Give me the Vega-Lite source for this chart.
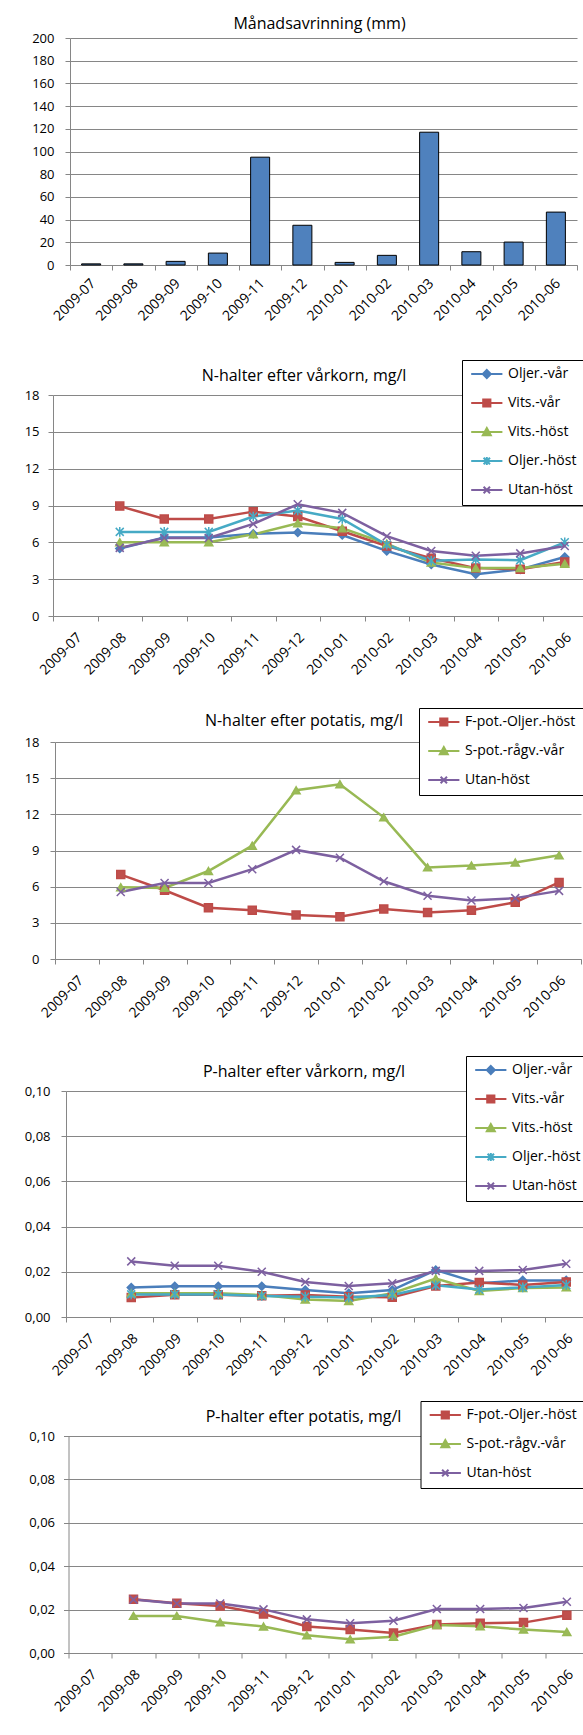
{
  "$schema": "https://vega.github.io/schema/vega-lite/v6.json",
  "padding": {"left": 0, "top": 16, "right": 0, "bottom": 0},
  "columns": 1,
  "bounds": "full",
  "spacing": 5,
  "resolve": {"scale": {"color": "independent", "fill": "independent", "stroke": "independent", "shape": "independent"}, "legend": {"color": "independent", "fill": "independent", "stroke": "independent", "shape": "independent"}},
  "config": {
    "font": "Open Sans",
    "view": {"stroke": null},
    "locale": {"number": {"decimal": ",", "thousands": " ", "grouping": [3], "currency": ["", " kr"]}},
    "title": {"font": "Open Sans", "fontSize": 16, "fontWeight": "normal", "color": "black", "baseline": "alphabetic", "frame": "group", "anchor": "middle"},
    "axis": {"labelFont": "Open Sans", "labelColor": "black", "domainColor": "#868686", "tickColor": "#868686", "gridColor": "#868686", "gridWidth": 1, "domainWidth": 1, "tickWidth": 1, "tickSize": 5},
    "axisX": {"tickBand": "extent", "grid": false, "labelFontSize": 14, "labelOverlap": false},
    "axisY": {"labelFontSize": 13, "grid": true, "minExtent": 44, "maxExtent": 44},
    "legend": {"orient": "none", "fillColor": "white", "strokeColor": "black", "padding": 7, "rowPadding": 13, "labelFontSize": 14, "labelFont": "Open Sans", "labelColor": "black", "symbolSize": 64, "symbolStrokeWidth": 2, "labelOffset": 25}
  },
  "datasets": {
    "runoff": [
      {"m": "2009-07", "v": 1.0}, {"m": "2009-08", "v": 1.0}, {"m": "2009-09", "v": 3.2}, {"m": "2009-10", "v": 10.5},
      {"m": "2009-11", "v": 95.0}, {"m": "2009-12", "v": 35.0}, {"m": "2010-01", "v": 2.3}, {"m": "2010-02", "v": 8.5},
      {"m": "2010-03", "v": 117.0}, {"m": "2010-04", "v": 11.7}, {"m": "2010-05", "v": 20.2}, {"m": "2010-06", "v": 46.6}
    ],
    "nv": [
      {"m": "2009-08", "s": "Oljer.-vår", "v": 5.5}, {"m": "2009-09", "s": "Oljer.-vår", "v": 6.4}, {"m": "2009-10", "s": "Oljer.-vår", "v": 6.4}, {"m": "2009-11", "s": "Oljer.-vår", "v": 6.7}, {"m": "2009-12", "s": "Oljer.-vår", "v": 6.8}, {"m": "2010-01", "s": "Oljer.-vår", "v": 6.6}, {"m": "2010-02", "s": "Oljer.-vår", "v": 5.3}, {"m": "2010-03", "s": "Oljer.-vår", "v": 4.2}, {"m": "2010-04", "s": "Oljer.-vår", "v": 3.4}, {"m": "2010-05", "s": "Oljer.-vår", "v": 3.8}, {"m": "2010-06", "s": "Oljer.-vår", "v": 4.8},
      {"m": "2009-08", "s": "Vits.-vår", "v": 8.95}, {"m": "2009-09", "s": "Vits.-vår", "v": 7.9}, {"m": "2009-10", "s": "Vits.-vår", "v": 7.9}, {"m": "2009-11", "s": "Vits.-vår", "v": 8.5}, {"m": "2009-12", "s": "Vits.-vår", "v": 8.1}, {"m": "2010-01", "s": "Vits.-vår", "v": 6.9}, {"m": "2010-02", "s": "Vits.-vår", "v": 5.7}, {"m": "2010-03", "s": "Vits.-vår", "v": 4.7}, {"m": "2010-04", "s": "Vits.-vår", "v": 3.9}, {"m": "2010-05", "s": "Vits.-vår", "v": 3.8}, {"m": "2010-06", "s": "Vits.-vår", "v": 4.4},
      {"m": "2009-08", "s": "Vits.-höst", "v": 6.0}, {"m": "2009-09", "s": "Vits.-höst", "v": 6.0}, {"m": "2009-10", "s": "Vits.-höst", "v": 6.0}, {"m": "2009-11", "s": "Vits.-höst", "v": 6.65}, {"m": "2009-12", "s": "Vits.-höst", "v": 7.55}, {"m": "2010-01", "s": "Vits.-höst", "v": 7.15}, {"m": "2010-02", "s": "Vits.-höst", "v": 5.9}, {"m": "2010-03", "s": "Vits.-höst", "v": 4.35}, {"m": "2010-04", "s": "Vits.-höst", "v": 3.9}, {"m": "2010-05", "s": "Vits.-höst", "v": 3.9}, {"m": "2010-06", "s": "Vits.-höst", "v": 4.25},
      {"m": "2009-08", "s": "Oljer.-höst", "v": 6.85}, {"m": "2009-09", "s": "Oljer.-höst", "v": 6.85}, {"m": "2009-10", "s": "Oljer.-höst", "v": 6.85}, {"m": "2009-11", "s": "Oljer.-höst", "v": 8.1}, {"m": "2009-12", "s": "Oljer.-höst", "v": 8.6}, {"m": "2010-01", "s": "Oljer.-höst", "v": 7.9}, {"m": "2010-02", "s": "Oljer.-höst", "v": 5.8}, {"m": "2010-03", "s": "Oljer.-höst", "v": 4.5}, {"m": "2010-04", "s": "Oljer.-höst", "v": 4.6}, {"m": "2010-05", "s": "Oljer.-höst", "v": 4.55}, {"m": "2010-06", "s": "Oljer.-höst", "v": 6.0},
      {"m": "2009-08", "s": "Utan-höst", "v": 5.55}, {"m": "2009-09", "s": "Utan-höst", "v": 6.35}, {"m": "2009-10", "s": "Utan-höst", "v": 6.35}, {"m": "2009-11", "s": "Utan-höst", "v": 7.5}, {"m": "2009-12", "s": "Utan-höst", "v": 9.1}, {"m": "2010-01", "s": "Utan-höst", "v": 8.4}, {"m": "2010-02", "s": "Utan-höst", "v": 6.5}, {"m": "2010-03", "s": "Utan-höst", "v": 5.3}, {"m": "2010-04", "s": "Utan-höst", "v": 4.9}, {"m": "2010-05", "s": "Utan-höst", "v": 5.1}, {"m": "2010-06", "s": "Utan-höst", "v": 5.7}
    ],
    "np": [
      {"m": "2009-08", "s": "F-pot.-Oljer.-höst", "v": 7.0}, {"m": "2009-09", "s": "F-pot.-Oljer.-höst", "v": 5.7}, {"m": "2009-10", "s": "F-pot.-Oljer.-höst", "v": 4.25}, {"m": "2009-11", "s": "F-pot.-Oljer.-höst", "v": 4.05}, {"m": "2009-12", "s": "F-pot.-Oljer.-höst", "v": 3.65}, {"m": "2010-01", "s": "F-pot.-Oljer.-höst", "v": 3.5}, {"m": "2010-02", "s": "F-pot.-Oljer.-höst", "v": 4.15}, {"m": "2010-03", "s": "F-pot.-Oljer.-höst", "v": 3.85}, {"m": "2010-04", "s": "F-pot.-Oljer.-höst", "v": 4.05}, {"m": "2010-05", "s": "F-pot.-Oljer.-höst", "v": 4.7}, {"m": "2010-06", "s": "F-pot.-Oljer.-höst", "v": 6.35},
      {"m": "2009-08", "s": "S-pot.-rågv.-vår", "v": 5.95}, {"m": "2009-09", "s": "S-pot.-rågv.-vår", "v": 5.9}, {"m": "2009-10", "s": "S-pot.-rågv.-vår", "v": 7.3}, {"m": "2009-11", "s": "S-pot.-rågv.-vår", "v": 9.4}, {"m": "2009-12", "s": "S-pot.-rågv.-vår", "v": 14.0}, {"m": "2010-01", "s": "S-pot.-rågv.-vår", "v": 14.5}, {"m": "2010-02", "s": "S-pot.-rågv.-vår", "v": 11.75}, {"m": "2010-03", "s": "S-pot.-rågv.-vår", "v": 7.6}, {"m": "2010-04", "s": "S-pot.-rågv.-vår", "v": 7.75}, {"m": "2010-05", "s": "S-pot.-rågv.-vår", "v": 8.0}, {"m": "2010-06", "s": "S-pot.-rågv.-vår", "v": 8.6},
      {"m": "2009-08", "s": "Utan-höst", "v": 5.55}, {"m": "2009-09", "s": "Utan-höst", "v": 6.3}, {"m": "2009-10", "s": "Utan-höst", "v": 6.3}, {"m": "2009-11", "s": "Utan-höst", "v": 7.45}, {"m": "2009-12", "s": "Utan-höst", "v": 9.05}, {"m": "2010-01", "s": "Utan-höst", "v": 8.4}, {"m": "2010-02", "s": "Utan-höst", "v": 6.45}, {"m": "2010-03", "s": "Utan-höst", "v": 5.25}, {"m": "2010-04", "s": "Utan-höst", "v": 4.85}, {"m": "2010-05", "s": "Utan-höst", "v": 5.05}, {"m": "2010-06", "s": "Utan-höst", "v": 5.65}
    ],
    "pv": [
      {"m": "2009-08", "s": "Oljer.-vår", "v": 0.0130}, {"m": "2009-09", "s": "Oljer.-vår", "v": 0.0136}, {"m": "2009-10", "s": "Oljer.-vår", "v": 0.0136}, {"m": "2009-11", "s": "Oljer.-vår", "v": 0.0136}, {"m": "2009-12", "s": "Oljer.-vår", "v": 0.0119}, {"m": "2010-01", "s": "Oljer.-vår", "v": 0.0105}, {"m": "2010-02", "s": "Oljer.-vår", "v": 0.0119}, {"m": "2010-03", "s": "Oljer.-vår", "v": 0.0208}, {"m": "2010-04", "s": "Oljer.-vår", "v": 0.0149}, {"m": "2010-05", "s": "Oljer.-vår", "v": 0.0162}, {"m": "2010-06", "s": "Oljer.-vår", "v": 0.0162},
      {"m": "2009-08", "s": "Vits.-vår", "v": 0.0086}, {"m": "2009-09", "s": "Vits.-vår", "v": 0.0098}, {"m": "2009-10", "s": "Vits.-vår", "v": 0.0098}, {"m": "2009-11", "s": "Vits.-vår", "v": 0.0094}, {"m": "2009-12", "s": "Vits.-vår", "v": 0.0097}, {"m": "2010-01", "s": "Vits.-vår", "v": 0.0090}, {"m": "2010-02", "s": "Vits.-vår", "v": 0.0087}, {"m": "2010-03", "s": "Vits.-vår", "v": 0.0137}, {"m": "2010-04", "s": "Vits.-vår", "v": 0.0153}, {"m": "2010-05", "s": "Vits.-vår", "v": 0.0142}, {"m": "2010-06", "s": "Vits.-vår", "v": 0.0155},
      {"m": "2009-08", "s": "Vits.-höst", "v": 0.0105}, {"m": "2009-09", "s": "Vits.-höst", "v": 0.0105}, {"m": "2009-10", "s": "Vits.-höst", "v": 0.0105}, {"m": "2009-11", "s": "Vits.-höst", "v": 0.0097}, {"m": "2009-12", "s": "Vits.-höst", "v": 0.0077}, {"m": "2010-01", "s": "Vits.-höst", "v": 0.0071}, {"m": "2010-02", "s": "Vits.-höst", "v": 0.0105}, {"m": "2010-03", "s": "Vits.-höst", "v": 0.0170}, {"m": "2010-04", "s": "Vits.-höst", "v": 0.0115}, {"m": "2010-05", "s": "Vits.-höst", "v": 0.0128}, {"m": "2010-06", "s": "Vits.-höst", "v": 0.0131},
      {"m": "2009-08", "s": "Oljer.-höst", "v": 0.0100}, {"m": "2009-09", "s": "Oljer.-höst", "v": 0.0100}, {"m": "2009-10", "s": "Oljer.-höst", "v": 0.0100}, {"m": "2009-11", "s": "Oljer.-höst", "v": 0.0093}, {"m": "2009-12", "s": "Oljer.-höst", "v": 0.0090}, {"m": "2010-01", "s": "Oljer.-höst", "v": 0.0086}, {"m": "2010-02", "s": "Oljer.-höst", "v": 0.0097}, {"m": "2010-03", "s": "Oljer.-höst", "v": 0.0140}, {"m": "2010-04", "s": "Oljer.-höst", "v": 0.0122}, {"m": "2010-05", "s": "Oljer.-höst", "v": 0.0131}, {"m": "2010-06", "s": "Oljer.-höst", "v": 0.0142},
      {"m": "2009-08", "s": "Utan-höst", "v": 0.0246}, {"m": "2009-09", "s": "Utan-höst", "v": 0.0227}, {"m": "2009-10", "s": "Utan-höst", "v": 0.0227}, {"m": "2009-11", "s": "Utan-höst", "v": 0.0200}, {"m": "2009-12", "s": "Utan-höst", "v": 0.0155}, {"m": "2010-01", "s": "Utan-höst", "v": 0.0137}, {"m": "2010-02", "s": "Utan-höst", "v": 0.0149}, {"m": "2010-03", "s": "Utan-höst", "v": 0.0204}, {"m": "2010-04", "s": "Utan-höst", "v": 0.0204}, {"m": "2010-05", "s": "Utan-höst", "v": 0.0208}, {"m": "2010-06", "s": "Utan-höst", "v": 0.0236}
    ],
    "pp": [
      {"m": "2009-08", "s": "F-pot.-Oljer.-höst", "v": 0.0248}, {"m": "2009-09", "s": "F-pot.-Oljer.-höst", "v": 0.0229}, {"m": "2009-10", "s": "F-pot.-Oljer.-höst", "v": 0.0217}, {"m": "2009-11", "s": "F-pot.-Oljer.-höst", "v": 0.0180}, {"m": "2009-12", "s": "F-pot.-Oljer.-höst", "v": 0.0122}, {"m": "2010-01", "s": "F-pot.-Oljer.-höst", "v": 0.0108}, {"m": "2010-02", "s": "F-pot.-Oljer.-höst", "v": 0.0092}, {"m": "2010-03", "s": "F-pot.-Oljer.-höst", "v": 0.0131}, {"m": "2010-04", "s": "F-pot.-Oljer.-höst", "v": 0.0137}, {"m": "2010-05", "s": "F-pot.-Oljer.-höst", "v": 0.0140}, {"m": "2010-06", "s": "F-pot.-Oljer.-höst", "v": 0.0174},
      {"m": "2009-08", "s": "S-pot.-rågv.-vår", "v": 0.0171}, {"m": "2009-09", "s": "S-pot.-rågv.-vår", "v": 0.0171}, {"m": "2009-10", "s": "S-pot.-rågv.-vår", "v": 0.0142}, {"m": "2009-11", "s": "S-pot.-rågv.-vår", "v": 0.0122}, {"m": "2009-12", "s": "S-pot.-rågv.-vår", "v": 0.0082}, {"m": "2010-01", "s": "S-pot.-rågv.-vår", "v": 0.0063}, {"m": "2010-02", "s": "S-pot.-rågv.-vår", "v": 0.0075}, {"m": "2010-03", "s": "S-pot.-rågv.-vår", "v": 0.0129}, {"m": "2010-04", "s": "S-pot.-rågv.-vår", "v": 0.0123}, {"m": "2010-05", "s": "S-pot.-rågv.-vår", "v": 0.0108}, {"m": "2010-06", "s": "S-pot.-rågv.-vår", "v": 0.0097},
      {"m": "2009-08", "s": "Utan-höst", "v": 0.0246}, {"m": "2009-09", "s": "Utan-höst", "v": 0.0228}, {"m": "2009-10", "s": "Utan-höst", "v": 0.0228}, {"m": "2009-11", "s": "Utan-höst", "v": 0.0201}, {"m": "2009-12", "s": "Utan-höst", "v": 0.0155}, {"m": "2010-01", "s": "Utan-höst", "v": 0.0137}, {"m": "2010-02", "s": "Utan-höst", "v": 0.0149}, {"m": "2010-03", "s": "Utan-höst", "v": 0.0203}, {"m": "2010-04", "s": "Utan-höst", "v": 0.0203}, {"m": "2010-05", "s": "Utan-höst", "v": 0.0207}, {"m": "2010-06", "s": "Utan-höst", "v": 0.0236}
    ]
  },
  "concat": [
    {"spacing": 19, "hconcat": [
      {"width": 1, "height": 1, "data": {"values": [{"z": 0}]}, "mark": {"type": "point", "opacity": 0}, "encoding": {}},
      {
      "width": 507, "height": 227,
      "title": {"text": "Månadsavrinning (mm)", "dx": -4, "offset": 0},
      "data": {"name": "runoff"},
      "mark": {"type": "bar", "width": {"band": 0.45}, "fill": "#4F81BD", "stroke": "black", "strokeWidth": 1},
      "encoding": {
        "x": {"field": "m", "type": "ordinal", "title": null,
              "scale": {"type": "band", "domain": ["2009-07","2009-08","2009-09","2009-10","2009-11","2009-12","2010-01","2010-02","2010-03","2010-04","2010-05","2010-06"], "paddingInner": 0, "paddingOuter": 0},
              "axis": {"minExtent": 89, "maxExtent": 89, "labelAngle": -45, "labelAlign": "right", "labelBaseline": "middle", "labelPadding": 11, "labelOffset": 2}},
        "y": {"field": "v", "type": "quantitative", "title": null,
              "scale": {"domain": [0, 200], "nice": false},
              "axis": {"values": [0,20,40,60,80,100,120,140,160,180,200], "labelPadding": 11}}
      }
    }]},
    {"spacing": 2, "hconcat": [
      {"width": 1, "height": 1, "data": {"values": [{"z": 0}]}, "mark": {"type": "point", "opacity": 0}, "encoding": {}},
      {
      "width": 534, "height": 221,
      "title": {"text": "N-halter efter vårkorn, mg/l", "dx": -16, "offset": -24},
      "data": {"name": "nv"},
      "encoding": {
        "x": {"field": "m", "type": "ordinal", "title": null,
              "scale": {"type": "band", "domain": ["2009-07","2009-08","2009-09","2009-10","2009-11","2009-12","2010-01","2010-02","2010-03","2010-04","2010-05","2010-06"], "paddingInner": 0, "paddingOuter": 0},
              "axis": {"minExtent": 86, "maxExtent": 86, "labelAngle": -45, "labelAlign": "right", "labelBaseline": "middle", "labelPadding": 14, "labelOffset": 4}},
        "y": {"field": "v", "type": "quantitative", "title": null,
              "scale": {"domain": [0, 18], "nice": false},
              "axis": {"values": [0,3,6,9,12,15,18], "labelPadding": 9}}
      },
      "layer": [
        {"mark": {"type": "line", "strokeWidth": 2.5},
         "encoding": {"color": {"field": "s", "type": "nominal", "legend": null,
            "scale": {"domain": ["Oljer.-vår","Vits.-vår","Vits.-höst","Oljer.-höst","Utan-höst"], "range": ["#4A7EBB","#BE4B48","#98B954","#46AAC5","#7D60A0"]}}}},
        {"mark": {"type": "point", "filled": true, "size": 64, "strokeWidth": 1.5, "opacity": 1},
         "encoding": {
           "fill": {"field": "s", "type": "nominal", "legend": null, "scale": {"domain": ["Oljer.-vår","Vits.-vår","Vits.-höst","Oljer.-höst","Utan-höst"], "range": ["#4F81BD","#C0504D","#9BBB59","#4BACC6","#8064A2"]}},
           "stroke": {"field": "s", "type": "nominal", "legend": null, "scale": {"domain": ["Oljer.-vår","Vits.-vår","Vits.-höst","Oljer.-höst","Utan-höst"], "range": ["#4A7EBB","#BE4B48","#98B954","#46AAC5","#7D60A0"]}},
           "shape": {"field": "s", "type": "nominal", "legend": null, "scale": {"domain": ["Oljer.-vår","Vits.-vår","Vits.-höst","Oljer.-höst","Utan-höst"], "range": ["diamond","square","triangle-up","M-1,-1L1,1M-1,1L1,-1M0,-1.2L0,1.2","M-1,-1L1,1M-1,1L1,-1"]}}
         }},
        {"mark": {"type": "point", "filled": false, "opacity": 1},
         "encoding": {
           "opacity": {"value": 0},
           "color": {"field": "s", "type": "nominal", "legend": {"title": null, "legendX": 409, "legendY": -35}, "scale": {"domain": ["Oljer.-vår","Vits.-vår","Vits.-höst","Oljer.-höst","Utan-höst"], "range": ["#4A7EBB","#BE4B48","#98B954","#46AAC5","#7D60A0"]}},
           "shape": {"field": "s", "type": "nominal", "legend": {"title": null, "legendX": 409, "legendY": -35}, "scale": {"domain": ["Oljer.-vår","Vits.-vår","Vits.-höst","Oljer.-höst","Utan-höst"], "range": [
             "M-1.2,0L6.6,0M2.7,-1L3.7,0L2.7,1L1.7,0ZM2.2,-0.5L3.2,-0.5M2.2,0.5L3.2,0.5M2.45,-0.75L2.95,-0.75M2.45,0.75L2.95,0.75",
             "M-1.2,0L6.6,0M1.8,-0.9L3.6,-0.9L3.6,0.9L1.8,0.9ZM1.8,-0.45L3.6,-0.45M1.8,0.45L3.6,0.45",
             "M-1.2,0L6.6,0M2.7,-1L3.7,0.8L1.7,0.8ZM2.42,-0.5L2.98,-0.5M1.92,0.4L3.48,0.4",
             "M-1.2,0L6.6,0M1.9,-0.8L3.5,0.8M1.9,0.8L3.5,-0.8M2.7,-1L2.7,1",
             "M-1.2,0L6.6,0M1.9,-0.8L3.5,0.8M1.9,0.8L3.5,-0.8"]}}
         }}
      ],
      "resolve": {"scale": {"shape": "independent", "color": "independent"}}
    }]},
    {"spacing": 4, "hconcat": [
      {"width": 1, "height": 1, "data": {"values": [{"z": 0}]}, "mark": {"type": "point", "opacity": 0}, "encoding": {}},
      {
      "width": 526, "height": 217,
      "title": {"text": "N-halter efter potatis, mg/l", "dx": -14, "offset": -21},
      "data": {"name": "np"},
      "encoding": {
        "x": {"field": "m", "type": "ordinal", "title": null,
              "scale": {"type": "band", "domain": ["2009-07","2009-08","2009-09","2009-10","2009-11","2009-12","2010-01","2010-02","2010-03","2010-04","2010-05","2010-06"], "paddingInner": 0, "paddingOuter": 0},
              "axis": {"minExtent": 91, "maxExtent": 91, "labelAngle": -45, "labelAlign": "right", "labelBaseline": "middle", "labelPadding": 14, "labelOffset": 4}},
        "y": {"field": "v", "type": "quantitative", "title": null,
              "scale": {"domain": [0, 18], "nice": false},
              "axis": {"values": [0,3,6,9,12,15,18], "labelPadding": 11}}
      },
      "layer": [
        {"mark": {"type": "line", "strokeWidth": 2.5},
         "encoding": {"color": {"field": "s", "type": "nominal", "legend": null,
            "scale": {"domain": ["F-pot.-Oljer.-höst","S-pot.-rågv.-vår","Utan-höst"], "range": ["#BE4B48","#98B954","#7D60A0"]}}}},
        {"mark": {"type": "point", "filled": true, "size": 64, "strokeWidth": 1.5, "opacity": 1},
         "encoding": {
           "fill": {"field": "s", "type": "nominal", "legend": null, "scale": {"domain": ["F-pot.-Oljer.-höst","S-pot.-rågv.-vår","Utan-höst"], "range": ["#C0504D","#9BBB59","#8064A2"]}},
           "stroke": {"field": "s", "type": "nominal", "legend": null, "scale": {"domain": ["F-pot.-Oljer.-höst","S-pot.-rågv.-vår","Utan-höst"], "range": ["#BE4B48","#98B954","#7D60A0"]}},
           "shape": {"field": "s", "type": "nominal", "legend": null, "scale": {"domain": ["F-pot.-Oljer.-höst","S-pot.-rågv.-vår","Utan-höst"], "range": ["square","triangle-up","M-1,-1L1,1M-1,1L1,-1"]}}
         }},
        {"mark": {"type": "point", "filled": false, "opacity": 1},
         "encoding": {
           "opacity": {"value": 0},
           "color": {"field": "s", "type": "nominal", "legend": {"title": null, "legendX": 364, "legendY": -34}, "scale": {"domain": ["F-pot.-Oljer.-höst","S-pot.-rågv.-vår","Utan-höst"], "range": ["#BE4B48","#98B954","#7D60A0"]}},
           "shape": {"field": "s", "type": "nominal", "legend": {"title": null, "legendX": 364, "legendY": -34}, "scale": {"domain": ["F-pot.-Oljer.-höst","S-pot.-rågv.-vår","Utan-höst"], "range": [
             "M-1.2,0L6.6,0M1.8,-0.9L3.6,-0.9L3.6,0.9L1.8,0.9ZM1.8,-0.45L3.6,-0.45M1.8,0.45L3.6,0.45",
             "M-1.2,0L6.6,0M2.7,-1L3.7,0.8L1.7,0.8ZM2.42,-0.5L2.98,-0.5M1.92,0.4L3.48,0.4",
             "M-1.2,0L6.6,0M1.9,-0.8L3.5,0.8M1.9,0.8L3.5,-0.8"]}}
         }}
      ],
      "resolve": {"scale": {"shape": "independent", "color": "independent"}}
    }]},
    {"spacing": 15, "hconcat": [
      {"width": 1, "height": 1, "data": {"values": [{"z": 0}]}, "mark": {"type": "point", "opacity": 0}, "encoding": {}},
      {
      "width": 522, "height": 226,
      "title": {"text": "P-halter efter vårkorn, mg/l", "dx": -23, "offset": -24},
      "data": {"name": "pv"},
      "encoding": {
        "x": {"field": "m", "type": "ordinal", "title": null,
              "scale": {"type": "band", "domain": ["2009-07","2009-08","2009-09","2009-10","2009-11","2009-12","2010-01","2010-02","2010-03","2010-04","2010-05","2010-06"], "paddingInner": 0, "paddingOuter": 0},
              "axis": {"minExtent": 78, "maxExtent": 78, "labelAngle": -45, "labelAlign": "right", "labelBaseline": "middle", "labelPadding": 14, "labelOffset": 4}},
        "y": {"field": "v", "type": "quantitative", "title": null,
              "scale": {"domain": [0, 0.1], "nice": false},
              "axis": {"values": [0,0.02,0.04,0.06,0.08,0.1], "format": ".2f", "labelPadding": 11}}
      },
      "layer": [
        {"mark": {"type": "line", "strokeWidth": 2.5},
         "encoding": {"color": {"field": "s", "type": "nominal", "legend": null,
            "scale": {"domain": ["Oljer.-vår","Vits.-vår","Vits.-höst","Oljer.-höst","Utan-höst"], "range": ["#4A7EBB","#BE4B48","#98B954","#46AAC5","#7D60A0"]}}}},
        {"mark": {"type": "point", "filled": true, "size": 64, "strokeWidth": 1.5, "opacity": 1},
         "encoding": {
           "fill": {"field": "s", "type": "nominal", "legend": null, "scale": {"domain": ["Oljer.-vår","Vits.-vår","Vits.-höst","Oljer.-höst","Utan-höst"], "range": ["#4F81BD","#C0504D","#9BBB59","#4BACC6","#8064A2"]}},
           "stroke": {"field": "s", "type": "nominal", "legend": null, "scale": {"domain": ["Oljer.-vår","Vits.-vår","Vits.-höst","Oljer.-höst","Utan-höst"], "range": ["#4A7EBB","#BE4B48","#98B954","#46AAC5","#7D60A0"]}},
           "shape": {"field": "s", "type": "nominal", "legend": null, "scale": {"domain": ["Oljer.-vår","Vits.-vår","Vits.-höst","Oljer.-höst","Utan-höst"], "range": ["diamond","square","triangle-up","M-1,-1L1,1M-1,1L1,-1M0,-1.2L0,1.2","M-1,-1L1,1M-1,1L1,-1"]}}
         }},
        {"mark": {"type": "point", "filled": false, "opacity": 1},
         "encoding": {
           "opacity": {"value": 0},
           "color": {"field": "s", "type": "nominal", "legend": {"title": null, "legendX": 400, "legendY": -35}, "scale": {"domain": ["Oljer.-vår","Vits.-vår","Vits.-höst","Oljer.-höst","Utan-höst"], "range": ["#4A7EBB","#BE4B48","#98B954","#46AAC5","#7D60A0"]}},
           "shape": {"field": "s", "type": "nominal", "legend": {"title": null, "legendX": 400, "legendY": -35}, "scale": {"domain": ["Oljer.-vår","Vits.-vår","Vits.-höst","Oljer.-höst","Utan-höst"], "range": [
             "M-1.2,0L6.6,0M2.7,-1L3.7,0L2.7,1L1.7,0ZM2.2,-0.5L3.2,-0.5M2.2,0.5L3.2,0.5M2.45,-0.75L2.95,-0.75M2.45,0.75L2.95,0.75",
             "M-1.2,0L6.6,0M1.8,-0.9L3.6,-0.9L3.6,0.9L1.8,0.9ZM1.8,-0.45L3.6,-0.45M1.8,0.45L3.6,0.45",
             "M-1.2,0L6.6,0M2.7,-1L3.7,0.8L1.7,0.8ZM2.42,-0.5L2.98,-0.5M1.92,0.4L3.48,0.4",
             "M-1.2,0L6.6,0M1.9,-0.8L3.5,0.8M1.9,0.8L3.5,-0.8M2.7,-1L2.7,1",
             "M-1.2,0L6.6,0M1.9,-0.8L3.5,0.8M1.9,0.8L3.5,-0.8"]}}
         }}
      ],
      "resolve": {"scale": {"shape": "independent", "color": "independent"}}
    }]},
    {"spacing": 17.5, "hconcat": [
      {"width": 1, "height": 1, "data": {"values": [{"z": 0}]}, "mark": {"type": "point", "opacity": 0}, "encoding": {}},
      {
      "width": 520, "height": 217,
      "title": {"text": "P-halter efter potatis, mg/l", "dx": -25, "offset": -24},
      "data": {"name": "pp"},
      "encoding": {
        "x": {"field": "m", "type": "ordinal", "title": null,
              "scale": {"type": "band", "domain": ["2009-07","2009-08","2009-09","2009-10","2009-11","2009-12","2010-01","2010-02","2010-03","2010-04","2010-05","2010-06"], "paddingInner": 0, "paddingOuter": 0},
              "axis": {"minExtent": 70, "maxExtent": 70, "labelAngle": -45, "labelAlign": "right", "labelBaseline": "middle", "labelPadding": 14, "labelOffset": 4}},
        "y": {"field": "v", "type": "quantitative", "title": null,
              "scale": {"domain": [0, 0.1], "nice": false},
              "axis": {"values": [0,0.02,0.04,0.06,0.08,0.1], "format": ".2f", "labelPadding": 9}}
      },
      "layer": [
        {"mark": {"type": "line", "strokeWidth": 2.5},
         "encoding": {"color": {"field": "s", "type": "nominal", "legend": null,
            "scale": {"domain": ["F-pot.-Oljer.-höst","S-pot.-rågv.-vår","Utan-höst"], "range": ["#BE4B48","#98B954","#7D60A0"]}}}},
        {"mark": {"type": "point", "filled": true, "size": 64, "strokeWidth": 1.5, "opacity": 1},
         "encoding": {
           "fill": {"field": "s", "type": "nominal", "legend": null, "scale": {"domain": ["F-pot.-Oljer.-höst","S-pot.-rågv.-vår","Utan-höst"], "range": ["#C0504D","#9BBB59","#8064A2"]}},
           "stroke": {"field": "s", "type": "nominal", "legend": null, "scale": {"domain": ["F-pot.-Oljer.-höst","S-pot.-rågv.-vår","Utan-höst"], "range": ["#BE4B48","#98B954","#7D60A0"]}},
           "shape": {"field": "s", "type": "nominal", "legend": null, "scale": {"domain": ["F-pot.-Oljer.-höst","S-pot.-rågv.-vår","Utan-höst"], "range": ["square","triangle-up","M-1,-1L1,1M-1,1L1,-1"]}}
         }},
        {"mark": {"type": "point", "filled": false, "opacity": 1},
         "encoding": {
           "opacity": {"value": 0},
           "color": {"field": "s", "type": "nominal", "legend": {"title": null, "legendX": 352, "legendY": -35}, "scale": {"domain": ["F-pot.-Oljer.-höst","S-pot.-rågv.-vår","Utan-höst"], "range": ["#BE4B48","#98B954","#7D60A0"]}},
           "shape": {"field": "s", "type": "nominal", "legend": {"title": null, "legendX": 352, "legendY": -35}, "scale": {"domain": ["F-pot.-Oljer.-höst","S-pot.-rågv.-vår","Utan-höst"], "range": [
             "M-1.2,0L6.6,0M1.8,-0.9L3.6,-0.9L3.6,0.9L1.8,0.9ZM1.8,-0.45L3.6,-0.45M1.8,0.45L3.6,0.45",
             "M-1.2,0L6.6,0M2.7,-1L3.7,0.8L1.7,0.8ZM2.42,-0.5L2.98,-0.5M1.92,0.4L3.48,0.4",
             "M-1.2,0L6.6,0M1.9,-0.8L3.5,0.8M1.9,0.8L3.5,-0.8"]}}
         }}
      ],
      "resolve": {"scale": {"shape": "independent", "color": "independent"}}
    }]}
  ]
}
